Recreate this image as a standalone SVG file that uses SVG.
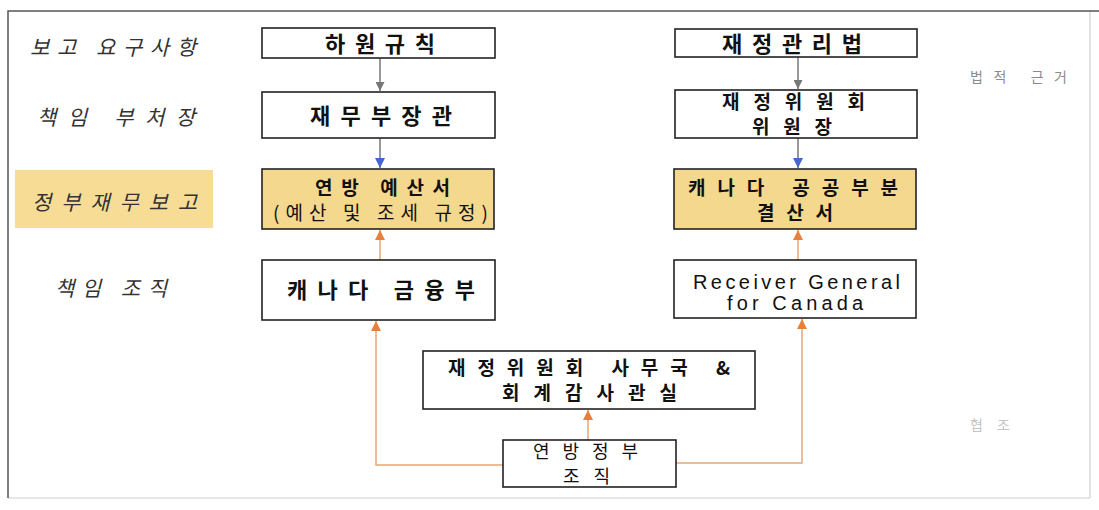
<svg xmlns="http://www.w3.org/2000/svg" width="1099" height="510" viewBox="0 0 1099 510">
<style>
.box{fill:#fff;stroke:#222;stroke-width:1.6}
.hl{fill:#F4D88E;stroke:#222;stroke-width:1.6}
.t{font-family:"Noto Sans CJK KR","Noto Sans",sans-serif;font-size:19px;fill:#111}
.t1{font-size:22px}
.sm{font-size:18px}
.b{font-weight:bold}
.en{font-family:"Liberation Sans",Arial,sans-serif;font-size:20px;fill:#111}
.lab{font-family:"Noto Sans CJK KR","Noto Sans",sans-serif;font-size:21px;font-style:italic;fill:#333}
.side{font-family:"Noto Sans CJK KR","Noto Sans",sans-serif;font-size:14px}
.c{fill:none;stroke-width:1.5}
.g{stroke:#777}
.o{stroke:#E9A574}
</style>
<defs>
<marker id="ag" viewBox="0 0 10 10" refX="10" refY="5" markerWidth="10" markerHeight="9" markerUnits="userSpaceOnUse" orient="auto"><path d="M0,0 L10,5 L0,10 z" fill="#777"/></marker>
<marker id="ab" viewBox="0 0 10 10" refX="10" refY="5" markerWidth="10" markerHeight="10" markerUnits="userSpaceOnUse" orient="auto"><path d="M0,0 L10,5 L0,10 z" fill="#4466D0"/></marker>
<marker id="ao" viewBox="0 0 10 10" refX="10" refY="5" markerWidth="10" markerHeight="10" markerUnits="userSpaceOnUse" orient="auto"><path d="M0,0 L10,5 L0,10 z" fill="#E8803A"/></marker>
</defs>
<rect width="1099" height="510" fill="#fff"/>
<g id="frame">
<path d="M8 498 H1090 V11" fill="none" stroke="#d0d0d0" stroke-width="1.2"/>
<path d="M8 498 V11 H1099" fill="none" stroke="#555" stroke-width="1.5"/>
</g>
<g id="labels">
<rect x="15" y="170" width="198" height="58" fill="#F6DC95"/>
<text class="lab" x="30" y="55" textLength="166" lengthAdjust="spacing">보고 요구사항</text>
<text class="lab" x="37" y="125" textLength="158" lengthAdjust="spacing">책임 부처장</text>
<text class="lab" x="32" y="210" textLength="165" lengthAdjust="spacing">정부재무보고</text>
<text class="lab" x="55" y="296" textLength="112" lengthAdjust="spacing">책임 조직</text>
<text class="side" x="970" y="82" fill="#8a8a8a" textLength="97" lengthAdjust="spacing">법적 근거</text>
<text class="side" x="970" y="430" fill="#c4c4c4" textLength="40" lengthAdjust="spacing">협조</text>
</g>
<g id="connectors">
<path class="c g" d="M380 58 V91" marker-end="url(#ag)"/>
<path class="c g" d="M380 138 V168" marker-end="url(#ab)"/>
<path class="c o" d="M380 260 V230" marker-end="url(#ao)"/>
<path class="c g" d="M798 57 V89" marker-end="url(#ag)"/>
<path class="c g" d="M798 138 V168" marker-end="url(#ab)"/>
<path class="c o" d="M798 260 V230" marker-end="url(#ao)"/>
<path class="c o" d="M503 465 H376 V321" marker-end="url(#ao)"/>
<path class="c o" d="M676 463 H802 V319" marker-end="url(#ao)"/>
<path class="c o" d="M588 440 V410" marker-end="url(#ao)"/>
</g>
<g id="n-rule">
<rect class="box" x="262" y="28" width="233" height="30"/>
<text class="t t1 b" x="325" y="52" textLength="110" lengthAdjust="spacing">하원규칙</text>
</g>
<g id="n-minister">
<rect class="box" x="262" y="92" width="233" height="46"/>
<text class="t t1 b" x="310" y="124" textLength="142" lengthAdjust="spacing">재무부장관</text>
</g>
<g id="n-budget">
<rect class="hl" x="262" y="169" width="232" height="60"/>
<text class="t b" x="315" y="195" textLength="135" lengthAdjust="spacing">연방 예산서</text>
<text class="t" x="273" y="220" textLength="215" lengthAdjust="spacing">(예산 및 조세 규정)</text>
</g>
<g id="n-finance">
<rect class="box" x="262" y="260" width="233" height="60"/>
<text class="t t1 b" x="287" y="298" textLength="188" lengthAdjust="spacing">캐나다 금융부</text>
</g>
<g id="n-act">
<rect class="box" x="675" y="29" width="242" height="28"/>
<text class="t t1 b" x="722" y="52" textLength="140" lengthAdjust="spacing">재정관리법</text>
</g>
<g id="n-chair">
<rect class="box" x="675" y="90" width="242" height="48"/>
<text class="t b" x="722" y="109" textLength="143" lengthAdjust="spacing">재정위원회</text>
<text class="t b" x="752" y="134" textLength="80" lengthAdjust="spacing">위원장</text>
</g>
<g id="n-accounts">
<rect class="hl" x="674" y="169" width="242" height="60"/>
<text class="t b" x="688" y="195" textLength="210" lengthAdjust="spacing">캐나다 공공부분</text>
<text class="t b" x="757" y="220" textLength="76" lengthAdjust="spacing">결산서</text>
</g>
<g id="n-receiver">
<rect class="box" x="674" y="260" width="242" height="58"/>
<text class="en" x="693" y="289" textLength="207" lengthAdjust="spacing">Receiver General</text>
<text class="en" x="727" y="310" textLength="136" lengthAdjust="spacing">for Canada</text>
</g>
<g id="n-secretariat">
<rect class="box" x="423" y="351" width="332" height="58"/>
<text class="t b" x="448" y="375" textLength="282" lengthAdjust="spacing">재정위원회 사무국 &amp;</text>
<text class="t b" x="502" y="400" textLength="175" lengthAdjust="spacing">회계감사관실</text>
</g>
<g id="n-federal">
<rect class="box" x="503" y="440" width="173" height="47"/>
<text class="t sm" x="533" y="458" textLength="105" lengthAdjust="spacing">연방정부</text>
<text class="t sm" x="563" y="483" textLength="47" lengthAdjust="spacing">조직</text>
</g>
</svg>
